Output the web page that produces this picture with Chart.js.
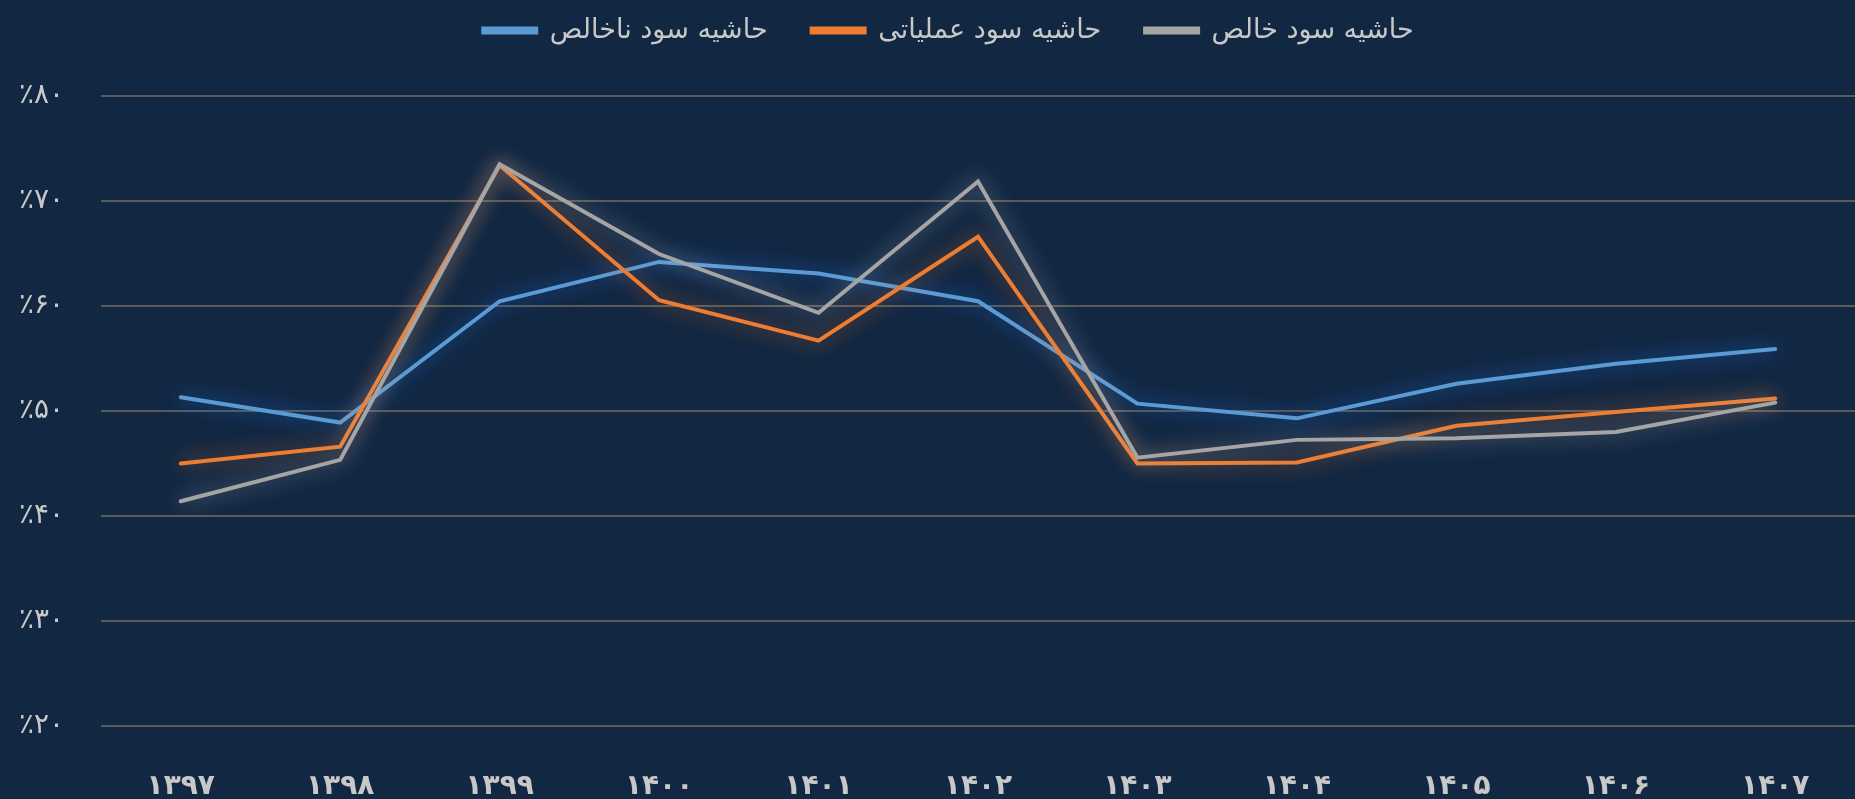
<!DOCTYPE html>
<html lang="fa">
<head>
    <meta charset="UTF-8">
    <title>حاشیه سود</title>
    <script src="https://cdn.jsdelivr.net/npm/chart.js"></script>
    <style>
        html, body { margin: 0; padding: 0; background: #122742; }
        #wrap { width: 1855px; height: 799px; position: relative; }
    </style>
</head>
<body>
    <div id="wrap"><canvas id="marginChart"></canvas></div>

    <script>
        // سال‌ها و مقادیر (درصد)
        const years = ['۱۳۹۷', '۱۳۹۸', '۱۳۹۹', '۱۴۰۰', '۱۴۰۱', '۱۴۰۲', '۱۴۰۳', '۱۴۰۴', '۱۴۰۵', '۱۴۰۶', '۱۴۰۷'];
        const grossMargin = [51.3, 48.9, 60.45, 64.2, 63.1, 60.45, 50.7, 49.3, 52.6, 54.5, 55.9];
        const operatingMargin = [45.0, 46.6, 73.4, 60.55, 56.7, 66.6, 45.0, 45.1, 48.6, 49.9, 51.2];
        const netMargin = [41.4, 45.35, 73.5, 64.95, 59.35, 71.85, 45.55, 47.25, 47.4, 48.0, 50.8];
        const seriesNames = ['حاشیه سود ناخالص', 'حاشیه سود عملیاتی', 'حاشیه سود خالص'];
        const yTicks = [20, 30, 40, 50, 60, 70, 80];

        const faDigits = '۰۱۲۳۴۵۶۷۸۹';
        function toFa(n) {
            return String(n).replace(/[0-9]/g, d => faDigits[d]);
        }

        const colors = ['#5b9bd5', '#ed7d31', '#a5a5a5'];
        const glows = ['rgba(30,110,220,0.9)', 'rgba(237,125,49,0.7)', 'rgba(200,200,200,0.65)'];

        // درخشش دور خطوط
        const glowPlugin = {
            id: 'glow',
            beforeDatasetDraw(chart, args) {
                const ctx = chart.ctx;
                ctx.save();
                ctx.shadowColor = glows[args.index];
                ctx.shadowBlur = 20;
            },
            afterDatasetDraw(chart) {
                chart.ctx.restore();
            }
        };

        // جابجایی راهنما به بالای صفحه
        const legendPlugin = {
            id: 'legendFix',
            beforeInit(chart) {
                const origFit = chart.legend.fit;
                chart.legend.fit = function () {
                    origFit.bind(this)();
                    this.height = 96;
                };
            },
            afterLayout(chart) {
                chart.legend.top = -27;
                chart.legend.left += 21;
                chart.legend.right += 21;
            }
        };

        function makeSet(i, data) {
            return {
                label: seriesNames[i],
                data: data,
                borderColor: colors[i],
                backgroundColor: colors[i],
                borderWidth: 4,
                pointRadius: 0,
                tension: 0,
                borderCapStyle: 'round',
                borderJoinStyle: 'miter',
                order: 3 - i
            };
        }

        const ctx = document.getElementById('marginChart').getContext('2d');
        new Chart(ctx, {
            type: 'line',
            data: {
                labels: years,
                datasets: [
                    makeSet(0, grossMargin),
                    makeSet(1, operatingMargin),
                    makeSet(2, netMargin)
                ]
            },
            options: {
                responsive: true,
                maintainAspectRatio: false,
                animation: false,
                layout: { padding: 0 },
                plugins: {
                    legend: {
                        position: 'top',
                        labels: {
                            color: '#c8c8c8',
                            font: { family: 'DejaVu Sans', size: 27 },
                            boxWidth: 53,
                            boxHeight: 4,
                            padding: 44,
                            sort: (a, b) => a.datasetIndex - b.datasetIndex
                        }
                    },
                    tooltip: { enabled: false }
                },
                scales: {
                    x: {
                        offset: true,
                        grid: { display: false },
                        border: { display: false },
                        ticks: {
                            color: '#c8c8c8',
                            font: { family: 'DejaVu Sans', size: 28, weight: 'bold' },
                            padding: 36,
                            maxRotation: 0
                        },
                        afterFit(scale) { scale.height = 73; }
                    },
                    y: {
                        min: 20,
                        max: 80,
                        afterBuildTicks(scale) {
                            scale.ticks = yTicks.map(v => ({ value: v }));
                        },
                        grid: { color: '#5a5a5a', lineWidth: 2, drawTicks: false },
                        border: { display: false },
                        ticks: {
                            color: '#c8c8c8',
                            font: { family: 'DejaVu Sans', size: 28 },
                            padding: 37,
                            callback: v => '٪' + toFa(v)
                        },
                        afterFit(scale) { scale.width = 101; }
                    }
                }
            },
            plugins: [glowPlugin, legendPlugin]
        });
    </script>
</body>
</html>
